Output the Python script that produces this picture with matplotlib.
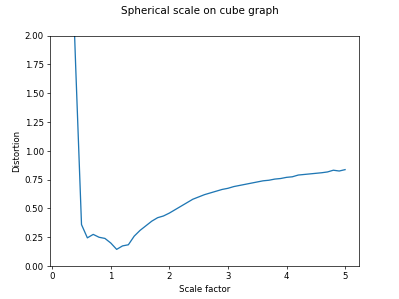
import numpy as np
import matplotlib
matplotlib.use("Agg")
import matplotlib.pyplot as plt

scale = [0.2, 0.3, 0.4, 0.5, 0.6, 0.7, 0.8, 0.9, 1.0,
         1.1, 1.2, 1.3, 1.4, 1.5, 1.6, 1.7, 1.8, 1.9, 2.0,
         2.1, 2.2, 2.3, 2.4, 2.5, 2.6, 2.7, 2.8, 2.9, 3.0,
         3.1, 3.2, 3.3, 3.4, 3.5, 3.6, 3.7, 3.8, 3.9, 4.0,
         4.1, 4.2, 4.3, 4.4, 4.5, 4.6, 4.7, 4.8, 4.9, 5.0]
distortion = [6.0, 3.2, 1.74, 0.36, 0.245, 0.275, 0.25, 0.24, 0.20,
              0.145, 0.175, 0.185, 0.26, 0.31, 0.35, 0.39, 0.42, 0.435, 0.46,
              0.49, 0.52, 0.55, 0.58, 0.60, 0.62, 0.635, 0.65, 0.665, 0.675,
              0.69, 0.70, 0.71, 0.72, 0.73, 0.74, 0.745, 0.755, 0.76, 0.77,
              0.775, 0.79, 0.795, 0.80, 0.805, 0.81, 0.817, 0.832, 0.825, 0.837]

fig, ax = plt.subplots(figsize=(6.4, 4.8), dpi=62.35)
ax.plot(scale, distortion)
ax.set_ylim(0, 2)
ax.set_xlabel("Scale factor")
ax.set_ylabel("Distortion")
fig.suptitle("Spherical scale on cube graph")
fig.savefig("out.png", dpi=62.35)
